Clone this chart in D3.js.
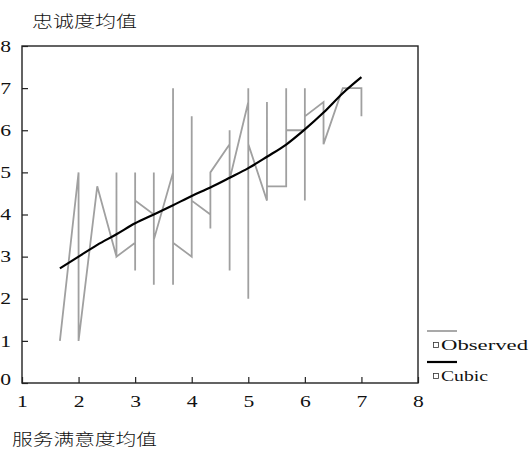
<!DOCTYPE html>
<html>
<head>
<meta charset="utf-8">
<script src="https://cdn.jsdelivr.net/npm/d3@7"></script>
<style>
  body { margin: 0; background: #fff; }
  text { font-family: "Liberation Serif", "DejaVu Serif", serif; fill: #111; }
  .cjk { font-family: "Noto Sans CJK SC", sans-serif; font-weight: 300; }
</style>
</head>
<body>
<div id="chart"></div>
<script>
// observed means (sorted by x, same order as the plotted path)
var obsX = [1.67, 2, 2, 2.33, 2.67, 2.67, 2.67, 3, 3, 3, 3, 3.33, 3.33, 3.33, 3.33,
  3.67, 3.67, 3.67, 3.67, 4, 4, 4, 4.33, 4.33, 4.33, 4.67, 4.67, 4.67, 4.67,
  5, 5, 5, 5, 5.33, 5.33, 5.33, 5.67, 5.67, 5.67, 6, 6, 6, 6, 6.33, 6.33, 6.67, 7, 7];
var obsY = [1, 5, 1, 4.67, 3, 5, 3, 3.33, 5, 2.67, 4.33, 4, 5, 2.33, 3.4,
  5, 7, 2.33, 3.33, 3, 6.33, 4.33, 4, 3.67, 5, 5.67, 6, 2.67, 4.83,
  6.67, 7, 2, 5.67, 4.33, 6.67, 4.67, 4.67, 7, 6, 6, 7, 4.33, 6.33, 6.67, 5.67, 7, 7, 6.33];

// cubic fit
var fitX = [1.67, 2, 2.33, 2.67, 3, 3.33, 3.67, 4, 4.33, 4.67, 5, 5.33, 5.67, 6, 6.33, 6.67, 7];
var fitY = [2.72, 3.0, 3.28, 3.53, 3.79, 4.0, 4.22, 4.44, 4.64, 4.87, 5.1, 5.37, 5.66, 6.02, 6.42, 6.88, 7.26];

var xTicks = [1, 2, 3, 4, 5, 6, 7, 8];
var yTicks = [0, 1, 2, 3, 4, 5, 6, 7, 8];
var legendLabels = ["Observed", "Cubic"];

var svgWidth = 530;
var svgHeight = 451;

var margin = {
  top: 46,
  right: 112,
  bottom: 68,
  left: 22
};

var width = svgWidth - margin.left - margin.right;
var height = svgHeight - margin.top - margin.bottom;

var svg = d3.select("#chart")
  .append("svg")
  .attr("width", svgWidth)
  .attr("height", svgHeight);

var chartGroup = svg.append("g")
  .attr("transform", `translate(${margin.left}, ${margin.top})`);

var xScale = d3.scaleLinear().domain([1, 8]).range([0, width]);
var yScale = d3.scaleLinear().domain([0, 8]).range([height, 0]);

// the source text is stretched sideways, so widen each label
function stretch(sel, k) {
  sel.each(function() {
    var len = this.getComputedTextLength();
    d3.select(this).attr("textLength", len * k).attr("lengthAdjust", "spacingAndGlyphs");
  });
}

// axes with ticks pointing inward
var bottomAxis = d3.axisBottom(xScale).tickValues(xTicks).tickFormat(d3.format("d"))
  .tickSizeInner(-6).tickSizeOuter(0).tickPadding(12);
var leftAxis = d3.axisLeft(yScale).tickValues(yTicks).tickFormat(d3.format("d"))
  .tickSizeInner(-6).tickSizeOuter(0).tickPadding(11);

var gx = chartGroup.append("g")
  .attr("transform", `translate(0, ${height})`)
  .call(bottomAxis);
var gy = chartGroup.append("g").call(leftAxis);

[gx, gy].forEach(function(g) {
  g.select(".domain").remove();
  g.selectAll("line").attr("stroke", "#222").attr("stroke-width", 1.2);
  g.selectAll("text")
    .attr("font-family", "Liberation Serif")
    .attr("font-size", 16)
    .attr("fill", "#111");
});
gx.selectAll("text").attr("dy", "0.75em");
gy.selectAll("text").attr("dy", "0.32em");
gy.selectAll(".tick").filter(d => d === 0).select("text").attr("dy", "0.12em");
stretch(gx.selectAll("text"), 1.35);
stretch(gy.selectAll("text"), 1.35);

// frame
chartGroup.append("rect")
  .attr("width", width)
  .attr("height", height)
  .attr("fill", "none")
  .attr("stroke", "#222")
  .attr("stroke-width", 1.4);

// observed line
var line = d3.line()
  .x(i => xScale(obsX[i]))
  .y(i => yScale(obsY[i]));

chartGroup.append("path")
  .attr("d", line(d3.range(obsX.length)))
  .attr("fill", "none")
  .attr("stroke", "#a0a0a0")
  .attr("stroke-width", 1.8)
  .attr("stroke-linejoin", "miter");

// cubic fit
var fitLine = d3.line()
  .x(i => xScale(fitX[i]))
  .y(i => yScale(fitY[i]))
  .curve(d3.curveMonotoneX);

chartGroup.append("path")
  .attr("d", fitLine(d3.range(fitX.length)))
  .attr("fill", "none")
  .attr("stroke", "#000")
  .attr("stroke-width", 2.2);

// axis titles
svg.append("text")
  .attr("class", "cjk")
  .attr("x", 32)
  .attr("y", 27)
  .attr("font-size", 16)
  .attr("textLength", 105)
  .attr("lengthAdjust", "spacingAndGlyphs")
  .text("忠诚度均值");

svg.append("text")
  .attr("class", "cjk")
  .attr("x", 12)
  .attr("y", 445)
  .attr("font-size", 16)
  .attr("textLength", 145)
  .attr("lengthAdjust", "spacingAndGlyphs")
  .text("服务满意度均值");

// legend
var legendColors = ["#a0a0a0", "#000"];
var legendWidths = [1.8, 2.2];
var legendText = [87, 47];
var legend = svg.append("g").attr("transform", "translate(427, 331)");

legendLabels.forEach(function(name, i) {
  var g = legend.append("g").attr("transform", `translate(0, ${i * 31})`);
  g.append("line")
    .attr("x1", 0).attr("x2", 30)
    .attr("stroke", legendColors[i])
    .attr("stroke-width", legendWidths[i]);
  g.append("rect")
    .attr("x", 6.5).attr("y", 11.5)
    .attr("width", 5).attr("height", 5)
    .attr("fill", "none")
    .attr("stroke", "#333")
    .attr("stroke-width", 0.8);
  g.append("text")
    .attr("x", 14)
    .attr("y", 19)
    .attr("font-size", 15)
    .attr("textLength", legendText[i])
    .attr("lengthAdjust", "spacingAndGlyphs")
    .text(name);
});
</script>
</body>
</html>
